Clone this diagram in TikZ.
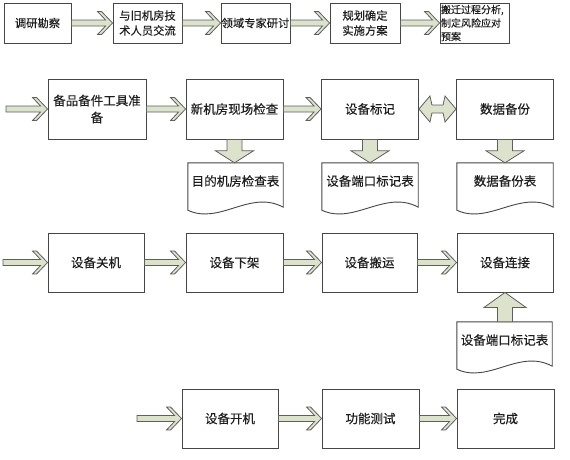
\documentclass[tikz,border=0pt]{standalone}
\usepackage{fontspec}
\setmainfont{Noto Sans CJK SC}
\newfontfamily\heifont[FakeBold=0.35]{Noto Sans CJK SC}
\newfontfamily\songfont[FakeBold=0.15]{Noto Sans CJK SC}
\usetikzlibrary{calc}
\definecolor{arrfill}{RGB}{220,226,204}
\definecolor{linegray}{RGB}{70,70,70}
\definecolor{arrline}{RGB}{95,95,95}
\definecolor{txt}{RGB}{30,30,30}
\tikzset{
 box/.style={draw=linegray, line width=0.9pt, text=txt, inner sep=0pt, align=center},
 rowA/.style={box, minimum width=69pt, minimum height=40pt, font=\songfont\fontsize{11.3}{15}\selectfont},
 rowB/.style={box, minimum width=97pt, minimum height=60pt, font=\heifont\fontsize{12.5}{17}\selectfont},
 docnode/.style={minimum width=95pt, minimum height=36pt, inner sep=0pt, text=txt, font=\heifont\fontsize{12.5}{15}\selectfont},
 docline/.style={draw=linegray, line width=0.9pt},
 barrow/.style={draw=arrline, line width=0.8pt, fill=arrfill, line join=miter},
}
\newcommand{\harr}[2]{\draw[barrow] let \p1=(#1), \p2=(#2) in
 (\x1,\y1+3pt) -- (\x2-7pt,\y1+3pt) -- (\x2-15pt,\y1+11.5pt) -- (\x2-11pt,\y1+11.5pt) -- (\x2,\y1)
 -- (\x2-11pt,\y1-11.5pt) -- (\x2-15pt,\y1-11.5pt) -- (\x2-7pt,\y1-3pt) -- (\x1,\y1-3pt) -- cycle;}
\newcommand{\dharr}[2]{\draw[barrow] let \p1=(#1), \p2=(#2) in
 (\x1,\y1) -- (\x1+11pt,\y1+13pt) -- (\x1+13pt,\y1+4pt) -- (\x2-13pt,\y1+4pt) -- (\x2-11pt,\y1+13pt) -- (\x2,\y1)
 -- (\x2-11pt,\y1-13pt) -- (\x2-13pt,\y1-4pt) -- (\x1+13pt,\y1-4pt) -- (\x1+11pt,\y1-13pt) -- cycle;}
\newcommand{\darr}[2]{\draw[barrow] let \p1=(#1), \p2=(#2) in
 (\x1-7.5pt,\y1) -- (\x1-7.5pt,\y2+12pt) -- (\x1-19pt,\y2+12pt) -- (\x1,\y2) -- (\x1+19pt,\y2+12pt)
 -- (\x1+7.5pt,\y2+12pt) -- (\x1+7.5pt,\y1) -- cycle;}
\newcommand{\uarr}[2]{\draw[barrow] let \p1=(#1), \p2=(#2) in
 (\x2-7.5pt,\y1) -- (\x2-7.5pt,\y2-15pt) -- (\x2-21pt,\y2-15pt) -- (\x2,\y2) -- (\x2+21pt,\y2-15pt)
 -- (\x2+7.5pt,\y2-15pt) -- (\x2+7.5pt,\y1) -- cycle;}
\newcommand{\docshape}[1]{\draw[docline] (#1.north west) -- (#1.north east) -- ([yshift=-8pt]#1.south east)
 .. controls ([xshift=-33pt,yshift=10pt]#1.south east) and ([xshift=32pt,yshift=-26pt]#1.south west) ..
 ([yshift=-11pt]#1.south west) -- cycle;}
\begin{document}
\begin{tikzpicture}[x=1pt,y=-1pt]
\useasboundingbox[fill=white] (0,0) rectangle (570,459);
% row 1
\node[rowA, minimum width=67pt] (a1) at (37.5,23) {调研勘察};
\node[rowA] (a2) at (147.5,23) {与旧机房技\\术人员交流};
\node[rowA] (a3) at (255.5,23) {领域专家研讨};
\node[rowA, minimum width=70pt] (a4) at (365,23) {规划确定\\实施方案};
\node[rowA, text width=67pt, align=left, font=\songfont\fontsize{10}{13.5}\selectfont] (a5) at (474.5,23) {搬迁过程分析,\\制定风险应对\\预案};
\harr{a1.east}{a2.west}
\harr{a2.east}{a3.west}
\harr{a3.east}{a4.west}
\harr{a4.east}{a5.west}
% row 2
\coordinate (e2) at (6,109);
\node[rowB, minimum width=98pt] (b1) at (97,109) {备品备件工具准\\备};
\node[rowB] (b2) at (234.5,109) {新机房现场检查};
\node[rowB] (b3) at (370,109) {设备标记};
\node[rowB] (b4) at (505,109) {数据备份};
\harr{e2}{b1.west}
\harr{b1.east}{b2.west}
\harr{b2.east}{b3.west}
\dharr{b3.east}{b4.west}
\node[docnode] (d1) at (235.5,181) {目的机房检查表};
\node[docnode, minimum width=96pt] (d2) at (370,181) {设备端口标记表};
\node[docnode, minimum width=96pt] (d3) at (505,181) {数据备份表};
\docshape{d1}\docshape{d2}\docshape{d3}
\darr{b2.south}{d1.north}
\darr{b3.south}{d2.north}
\darr{b4.south}{d3.north}
% row 3
\coordinate (e3) at (3,262.5);
\node[rowB, minimum width=96pt, minimum height=59pt] (c1) at (96,262.5) {设备关机};
\node[rowB, minimum height=59pt] (c2) at (234.5,262.5) {设备下架};
\node[rowB, minimum width=95pt, minimum height=59pt] (c3) at (369.5,262.5) {设备搬运};
\node[rowB, minimum width=96pt, minimum height=59pt] (c4) at (505,262.5) {设备连接};
\harr{e3}{c1.west}
\harr{c1.east}{c2.west}
\harr{c2.east}{c3.west}
\harr{c3.east}{c4.west}
\node[docnode] (d4) at (504.5,340) {设备端口标记表};
\docshape{d4}
\uarr{d4.north}{c4.south}
% row 4
\coordinate (e4) at (137,418.5);
\node[rowB, minimum width=96pt, minimum height=59pt] (f1) at (230,418.5) {设备开机};
\node[rowB, minimum height=59pt] (f2) at (370.5,418.5) {功能测试};
\node[rowB, minimum height=59pt] (f3) at (505.5,418.5) {完成};
\harr{e4}{f1.west}
\harr{f1.east}{f2.west}
\harr{f2.east}{f3.west}
\end{tikzpicture}
\end{document}
